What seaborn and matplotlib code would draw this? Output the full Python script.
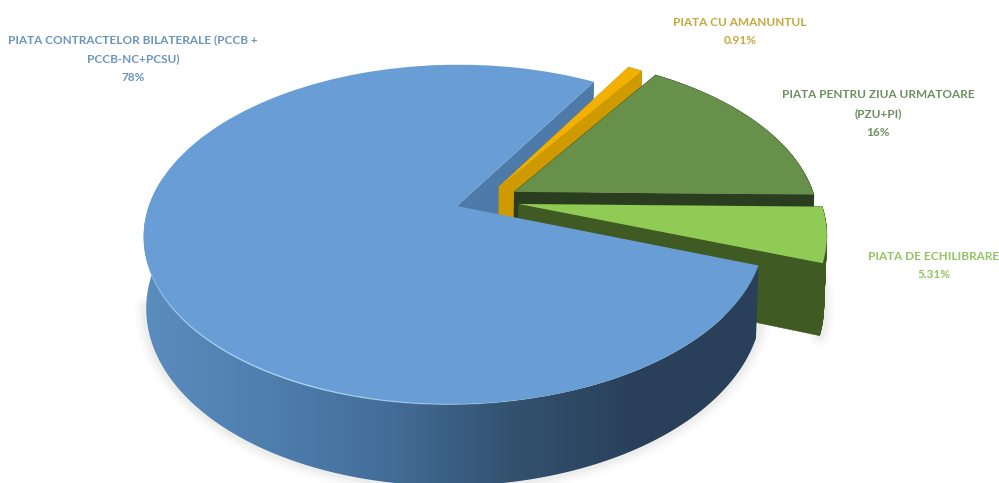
import numpy as np
import matplotlib
matplotlib.use("Agg")
import matplotlib.pyplot as plt
from matplotlib.collections import PolyCollection, LineCollection
from matplotlib.transforms import Transform
import seaborn as sns

# Market shares, in the order the slices run counter-clockwise
market_names = ["PIATA CONTRACTELOR BILATERALE (PCCB +\nPCCB-NC+PCSU)",
                "PIATA DE ECHILIBRARE",
                "PIATA PENTRU ZIUA URMATOARE\n(PZU+PI)",
                "PIATA CU AMANUNTUL"]
market_shares = [78, 5.31, 16, 0.91]
share_labels = ["78%", "5.31%", "16%", "0.91%"]

# Slice styling
top_colors = ["#689dd5", "#90cc55", "#67904b", "#f2b100"]
wall_colors = [None, "#405a23", "#2a3e1f", "#cf9a00"]
text_colors = ["#6c95bd", "#93c463", "#6f8e60", "#c9a63c"]

# Slice displacement in pie units and label anchors in pixels
slice_shift = [(0.0, 0.0), (0.203, 0.012), (0.189, 0.087), (0.139, 0.119)]
label_xy = [(133, 58.5), (934, 265.5), (878, 113.5), (740, 31.5)]

# Camera model for the tilted disc
CX, CY = 457.0, 206.0
BX, AY = 306.0, 165.0
SHEAR = 4.0
PERSP_Y, PERSP_X, PERSP_Z = 0.168, 0.007, 0.008
DEPTH = 70.0


def project(x, y, z=0.0):
    w = 1 + PERSP_Y * y + PERSP_X * x + PERSP_Z * z
    return CX + (BX * x + SHEAR * y) / w, CY + (-AY * y + DEPTH * z) / w


class TiltTransform(Transform):
    input_dims = output_dims = 2
    is_separable = False
    has_inverse = False

    def transform_non_affine(self, values):
        values = np.asarray(values)
        px, py = project(values[:, 0], values[:, 1])
        return np.column_stack([px, py])


def rim(wedge, angles, z):
    cx, cy = wedge.center
    rad = np.radians(angles)
    return np.column_stack(project(cx + wedge.r * np.cos(rad), cy + wedge.r * np.sin(rad), z))


def quad_strip(points_top, points_bottom):
    return [np.array([points_top[i], points_top[i + 1], points_bottom[i + 1], points_bottom[i]])
            for i in range(len(points_top) - 1)]


def radial_wall(wedge, angle):
    cx, cy = wedge.center
    apex_top = np.array(project(cx, cy, 0.0))
    apex_low = np.array(project(cx, cy, 1.0))
    edge_top = rim(wedge, np.array([angle]), 0.0)[0]
    edge_low = rim(wedge, np.array([angle]), 1.0)[0]
    return np.array([apex_top, edge_top, edge_low, apex_low])


sns.set_theme(style="white")
plt.rcParams["font.family"] = ["Lato", "DejaVu Sans"]

fig, ax = plt.subplots(figsize=(9.99, 4.83), dpi=100)
fig.subplots_adjust(0, 0, 1, 1)

wedges, _ = ax.pie(market_shares, colors=top_colors, startangle=59.8, counterclock=True,
                   radius=1, wedgeprops={"linewidth": 0})
ax.set_aspect("auto")

tilt = TiltTransform() + ax.transData
for wedge, shift in zip(wedges, slice_shift):
    wedge.set_center(shift)
    wedge.set_transform(tilt)

blue, light, dark, amber = wedges

# Soft shadow under the solid pieces
for piece, span in ((blue, (190, 345)), (light, (340, 360))):
    ring = rim(piece, np.linspace(*span, 120), 1.0)
    for lw, alpha in ((16, 0.025), (11, 0.035), (6, 0.05)):
        ax.plot(ring[:, 0], ring[:, 1], color="#6b6256", lw=lw, alpha=alpha, zorder=1,
                solid_capstyle="round")

# Cut face of the large slice seen through the gap
ax.add_patch(plt.Polygon(radial_wall(blue, blue.theta1), color="#4d7aa8", lw=0, zorder=2))

# Walls and tops of the separated slices, back to front
level = 3
for piece, wall in ((amber, wall_colors[3]), (dark, wall_colors[2]), (light, wall_colors[1])):
    angles = np.linspace(piece.theta1, piece.theta2, 40)
    quads = quad_strip(rim(piece, angles, 0.0), rim(piece, angles, 1.0))
    quads += [radial_wall(piece, piece.theta1), radial_wall(piece, piece.theta2)]
    ax.add_collection(PolyCollection(quads, facecolors=wall, edgecolors=wall, linewidths=0.4,
                                     zorder=level))
    piece.set_zorder(level + 1)
    level += 2

# Outer wall of the large slice, shaded from left to right
angles = np.linspace(170, blue.theta2, 260)
wall_outline = np.vstack([rim(blue, angles, 0.0), rim(blue, angles, 1.0)[::-1]])
ramp = np.array(sns.blend_palette(["#5b8cbe", "#4f7fae", "#436d98", "#33526f", "#2a405a", "#2a405a"],
                                  256))[None, :, :]
shade = ax.imshow(ramp, extent=(143, 758, 483, 0), aspect="auto", zorder=level,
                  interpolation="bilinear")
shade.set_clip_path(plt.Polygon(wall_outline, transform=ax.transData))
blue.set_zorder(level + 1)

# Pale highlight along the front-left rim
arc = np.linspace(195, 285, 60)
arc_pts = rim(blue, arc, 0.0)
segs = [arc_pts[i:i + 2] for i in range(len(arc_pts) - 1)]
fade = np.sin(np.linspace(0, np.pi, len(segs)))
ax.add_collection(LineCollection(segs, colors=[(0.70, 0.87, 0.97, a * 0.8) for a in fade],
                                 linewidths=1.0, zorder=level + 2))

ax.set_xlim(0, 999)
ax.set_ylim(483, 0)
ax.set_axis_off()

# Slice captions
for name, share, (tx, ty), color in zip(market_names, share_labels, label_xy, text_colors):
    ax.text(tx, ty, f"{name}\n{share}", ha="center", va="center", color=color,
            fontsize=8.45, fontweight="bold", linespacing=1.85, zorder=20)

fig.savefig("out.png", dpi=100)
